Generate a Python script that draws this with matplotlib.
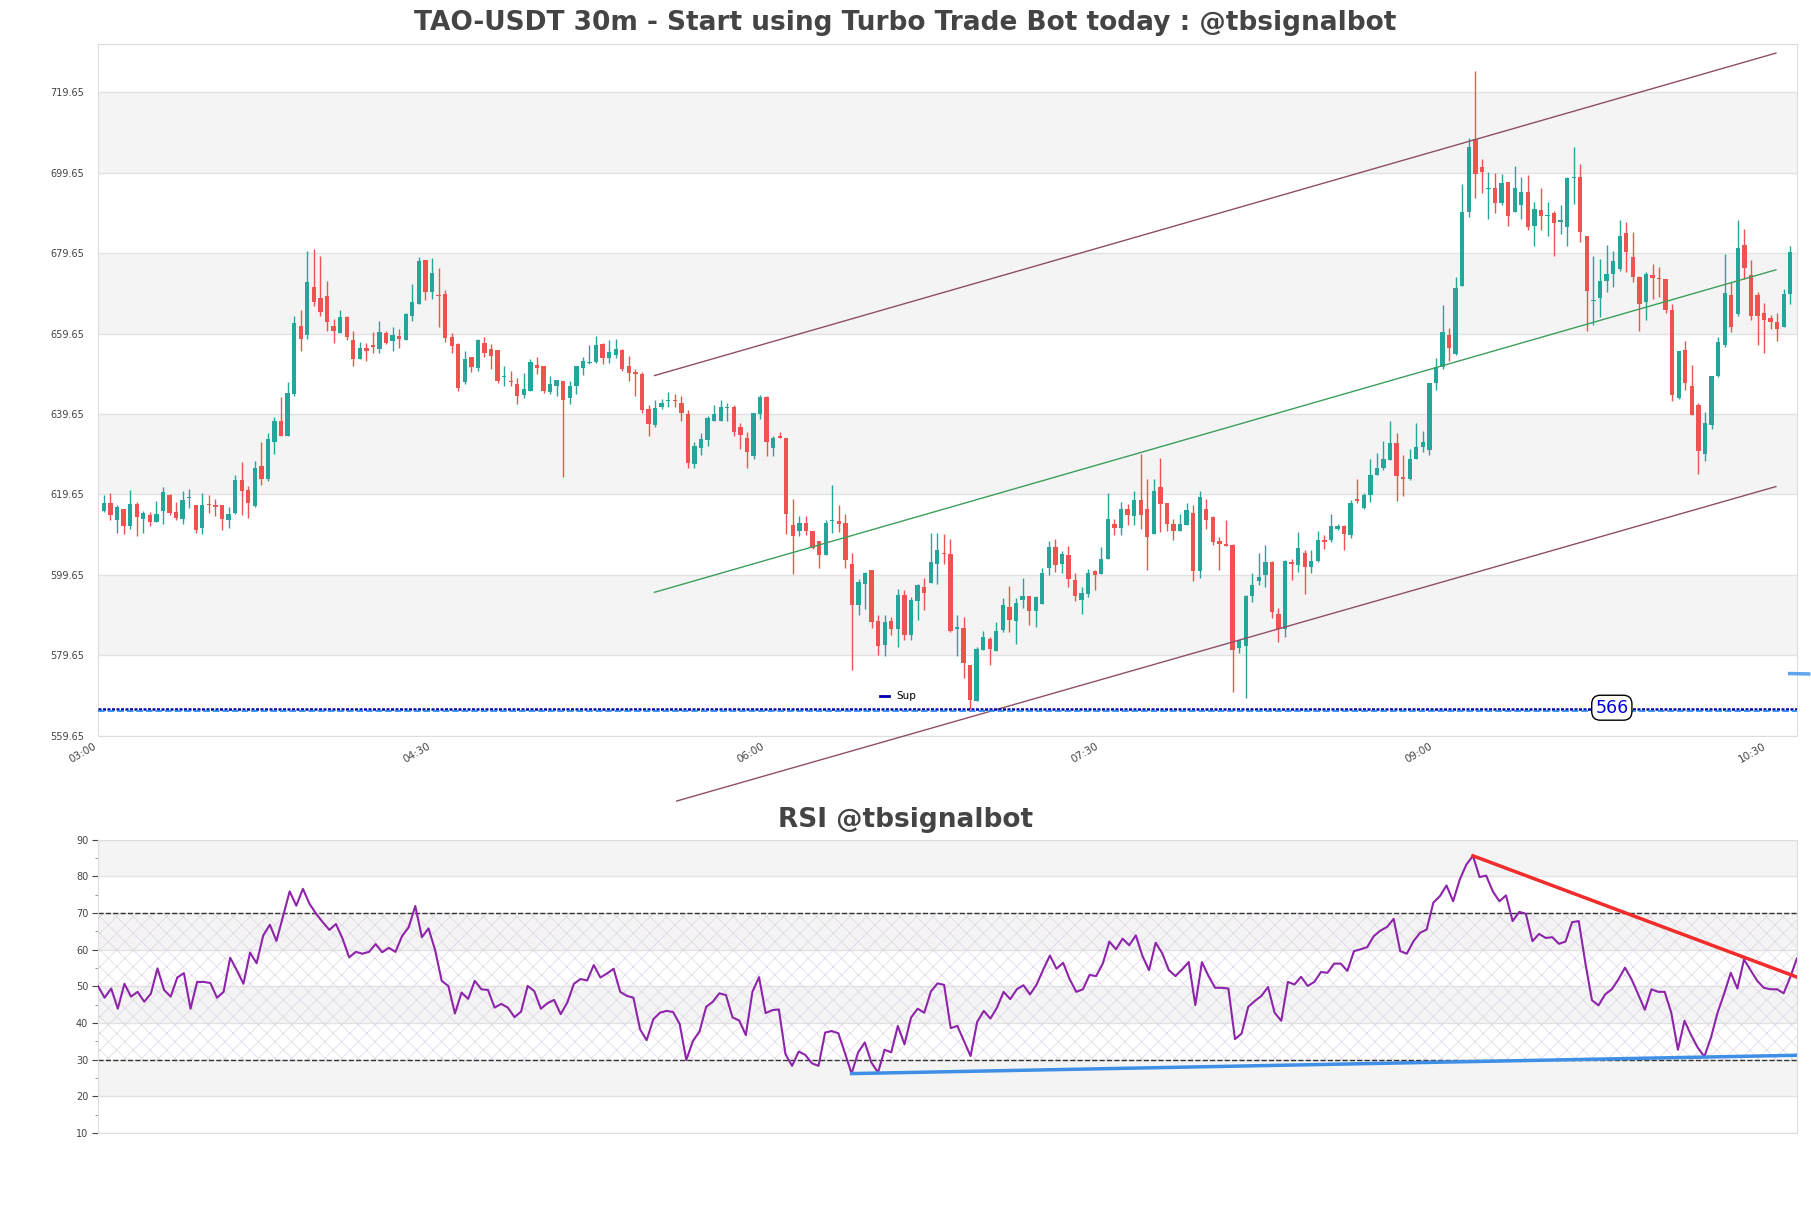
import numpy as np
import matplotlib
matplotlib.use('Agg')
import matplotlib.pyplot as plt
from matplotlib.lines import Line2D

# candle data (one row of ten per line)
opens = [615.6, 617.5, 613.4, 616.0, 611.7, 617.3, 613.6, 614.6, 612.9, 615.6,
         619.4, 615.2, 613.6, 618.7, 617.0, 611.2, 617.3, 617.0, 617.0, 613.4,
         615.0, 623.3, 620.8, 616.8, 626.7, 623.5, 632.6, 637.9, 634.3, 644.5,
         661.6, 659.4, 671.3, 668.5, 669.0, 661.6, 659.9, 663.8, 658.1, 653.4,
         656.1, 656.8, 655.7, 659.7, 657.8, 659.1, 658.1, 664.1, 667.1, 678.0,
         669.9, 669.1, 669.5, 658.7, 657.0, 647.6, 653.7, 651.0, 657.4, 655.8,
         655.5, 648.8, 647.7, 647.2, 644.3, 645.4, 651.8, 651.6, 645.1, 646.6,
         647.8, 643.7, 646.6, 651.1, 652.4, 652.6, 657.0, 653.6, 654.4, 655.5,
         651.5, 650.1, 649.5, 641.0, 636.9, 641.4, 642.9, 643.0, 642.3, 639.6,
         627.2, 631.1, 633.2, 637.9, 637.9, 641.1, 641.3, 636.5, 633.8, 629.2,
         639.6, 643.9, 631.3, 634.3, 633.7, 612.0, 610.6, 612.6, 610.5, 608.1,
         604.5, 613.1, 613.0, 612.6, 602.3, 592.1, 597.3, 600.9, 588.1, 582.1,
         588.2, 586.1, 594.7, 584.8, 593.1, 596.5, 597.5, 602.3, 605.1, 604.9,
         586.2, 586.4, 577.3, 568.2, 580.9, 583.8, 580.8, 586.0, 591.7, 588.1,
         593.3, 594.4, 590.6, 592.5, 601.3, 606.6, 602.3, 604.7, 598.4, 593.3,
         594.9, 600.6, 599.8, 603.7, 612.3, 611.3, 615.9, 614.3, 618.3, 616.1,
         609.7, 621.5, 617.6, 612.4, 610.5, 612.0, 615.1, 600.5, 616.1, 614.0,
         608.0, 607.4, 607.0, 581.4, 581.9, 594.5, 598.0, 599.5, 602.9, 590.0,
         586.3, 602.9, 602.0, 605.2, 601.6, 603.1, 608.4, 608.4, 611.1, 611.8,
         609.5, 618.4, 616.3, 619.6, 624.6, 626.1, 628.1, 632.4, 623.9, 623.6,
         628.5, 631.4, 630.6, 647.4, 651.3, 659.4, 654.5, 671.6, 690.0, 708.1,
         701.0, 695.5, 695.8, 692.0, 697.3, 690.0, 691.6, 694.8, 686.3, 690.4,
         688.9, 689.7, 687.5, 686.1, 698.4, 698.5, 684.0, 667.7, 668.4, 672.8,
         674.5, 675.7, 684.7, 678.6, 673.8, 667.5, 674.1, 673.4, 673.1, 665.4,
         643.6, 655.6, 646.7, 641.9, 629.8, 636.8, 649.0, 656.7, 669.3, 664.4,
         681.7, 674.2, 669.3, 664.8, 663.5, 662.6, 661.2, 669.5]
highs = [619.4, 619.9, 617.0, 616.0, 620.8, 617.7, 615.4, 615.2, 618.0, 621.5,
         619.7, 617.7, 620.4, 620.9, 617.0, 620.0, 619.4, 618.5, 617.0, 616.5,
         624.5, 627.7, 621.8, 628.0, 632.6, 635.0, 639.0, 643.8, 647.6, 664.0,
         665.6, 680.1, 680.7, 679.0, 672.7, 663.3, 665.6, 664.0, 660.3, 657.6,
         657.3, 660.0, 662.7, 660.2, 661.2, 660.8, 664.7, 671.9, 678.6, 678.0,
         678.4, 676.0, 670.5, 659.9, 657.4, 655.3, 653.8, 658.4, 658.7, 657.0,
         655.5, 651.6, 650.4, 648.7, 649.8, 653.3, 653.9, 651.6, 649.1, 648.1,
         647.8, 647.9, 651.5, 653.7, 656.7, 659.1, 657.2, 658.0, 658.4, 655.9,
         654.0, 650.8, 650.2, 642.0, 643.2, 643.5, 645.0, 644.5, 644.0, 640.6,
         632.6, 635.0, 639.2, 642.0, 643.2, 642.5, 641.8, 637.5, 635.2, 640.0,
         644.3, 644.2, 634.2, 635.1, 633.7, 618.6, 614.3, 614.3, 610.5, 608.1,
         613.4, 622.1, 617.1, 614.8, 605.1, 598.7, 600.4, 600.9, 589.6, 589.6,
         589.1, 596.2, 596.0, 594.1, 597.3, 598.9, 610.0, 610.0, 609.7, 608.6,
         589.6, 589.1, 577.3, 581.7, 585.8, 584.2, 587.8, 593.9, 596.8, 593.9,
         598.9, 594.5, 594.5, 601.3, 608.1, 608.6, 605.5, 606.8, 600.2, 596.6,
         601.0, 600.8, 606.6, 620.1, 613.6, 617.7, 617.3, 620.6, 629.6, 623.5,
         623.5, 628.7, 617.6, 613.6, 614.8, 617.6, 617.0, 620.4, 618.6, 614.4,
         609.1, 613.4, 607.2, 583.4, 594.6, 600.0, 605.0, 607.0, 603.0, 591.3,
         603.3, 603.7, 610.3, 605.8, 605.8, 610.6, 609.5, 614.9, 612.4, 612.0,
         618.2, 623.4, 620.1, 628.4, 630.0, 633.0, 637.8, 634.8, 629.5, 631.0,
         637.5, 635.4, 647.4, 653.5, 666.8, 661.1, 673.7, 696.9, 708.2, 725.0,
         703.1, 699.8, 699.6, 699.4, 697.3, 701.2, 698.7, 699.1, 692.3, 695.9,
         692.3, 690.2, 691.7, 698.5, 706.1, 701.8, 684.0, 678.9, 678.1, 681.7,
         680.3, 687.8, 687.3, 685.0, 673.9, 674.9, 677.0, 676.2, 673.1, 667.0,
         655.4, 657.9, 651.9, 642.5, 640.1, 649.0, 658.8, 679.5, 672.4, 687.9,
         685.7, 678.0, 669.9, 667.2, 664.3, 664.7, 670.8, 681.5]
lows = [615.2, 613.4, 610.1, 609.7, 611.1, 609.4, 610.0, 611.7, 612.9, 612.2,
        614.6, 613.4, 612.3, 616.2, 610.0, 609.7, 615.0, 614.2, 610.9, 611.2,
        614.8, 614.6, 613.9, 616.5, 622.1, 622.9, 629.8, 634.1, 634.1, 644.2,
        655.2, 658.4, 666.4, 663.9, 660.3, 657.4, 659.8, 658.1, 651.6, 653.4,
        652.9, 654.9, 654.9, 657.1, 655.2, 656.1, 658.0, 662.8, 667.1, 668.1,
        668.3, 661.4, 657.6, 654.7, 645.4, 647.1, 650.1, 650.4, 653.9, 650.9,
        647.3, 646.6, 646.6, 642.1, 643.7, 645.4, 649.5, 644.8, 644.6, 644.2,
        624.1, 642.2, 644.6, 649.3, 652.0, 652.4, 652.2, 652.4, 653.6, 650.4,
        647.9, 644.1, 640.0, 634.2, 636.5, 640.8, 641.5, 641.3, 637.9, 626.1,
        626.1, 629.5, 631.7, 637.9, 637.9, 637.9, 634.2, 630.9, 626.3, 628.4,
        638.5, 629.2, 629.1, 633.7, 609.9, 599.9, 609.2, 609.6, 606.0, 601.3,
        604.5, 610.1, 610.3, 601.3, 575.9, 589.6, 591.1, 586.4, 579.6, 579.4,
        584.6, 581.8, 583.4, 583.5, 588.3, 590.8, 597.5, 597.3, 602.3, 585.4,
        579.5, 574.0, 566.4, 568.2, 580.9, 577.2, 580.8, 585.4, 585.4, 582.5,
        591.4, 587.1, 586.6, 592.5, 599.5, 600.3, 600.1, 596.6, 593.1, 590.0,
        594.1, 595.8, 599.8, 603.5, 609.5, 609.5, 612.0, 612.0, 611.1, 600.8,
        609.7, 610.3, 610.5, 608.2, 610.5, 612.0, 598.1, 598.9, 611.1, 607.0,
        600.8, 606.8, 570.6, 580.1, 569.1, 592.8, 597.1, 596.7, 588.8, 583.0,
        584.2, 598.3, 600.4, 595.0, 600.0, 602.9, 606.0, 607.7, 610.7, 605.8,
        608.8, 617.6, 616.1, 617.8, 624.4, 625.6, 628.1, 617.9, 619.2, 623.2,
        628.5, 630.2, 629.4, 645.5, 650.9, 652.8, 654.2, 671.4, 688.6, 693.4,
        694.6, 688.2, 689.7, 691.5, 686.5, 690.0, 688.2, 685.3, 681.5, 685.5,
        683.9, 678.9, 684.3, 681.5, 691.9, 682.5, 660.4, 661.7, 663.7, 669.9,
        671.2, 675.3, 674.9, 672.4, 660.4, 662.9, 668.3, 668.7, 664.8, 643.0,
        643.3, 645.5, 639.3, 624.8, 627.9, 635.8, 648.8, 656.3, 660.0, 664.1,
        673.3, 662.9, 656.8, 654.9, 660.8, 657.9, 661.2, 667.0]
closes = [617.5, 614.6, 616.5, 611.9, 617.3, 614.1, 615.1, 612.9, 614.8, 620.2,
          615.1, 613.9, 618.3, 619.0, 610.7, 617.0, 616.9, 616.6, 613.6, 614.8,
          623.3, 620.4, 617.4, 626.2, 623.4, 633.5, 637.9, 634.3, 644.9, 662.2,
          658.4, 672.5, 667.6, 664.9, 662.6, 660.2, 663.7, 658.9, 653.4, 656.1,
          655.2, 656.2, 660.1, 657.4, 659.3, 658.4, 664.4, 667.5, 677.7, 669.9,
          674.8, 668.9, 658.6, 656.6, 646.2, 653.4, 651.4, 658.0, 654.7, 654.1,
          647.9, 648.9, 647.5, 644.0, 645.8, 652.7, 651.1, 645.4, 647.2, 648.0,
          643.2, 646.6, 651.5, 652.9, 652.6, 656.7, 653.6, 655.0, 655.9, 650.9,
          649.9, 649.5, 640.7, 637.2, 641.2, 642.5, 643.0, 642.9, 639.9, 627.4,
          631.6, 633.4, 638.7, 639.6, 641.5, 641.3, 635.2, 634.5, 630.3, 639.8,
          643.9, 632.7, 633.6, 633.7, 614.8, 609.2, 612.6, 610.5, 606.3, 604.7,
          612.6, 613.4, 612.2, 603.3, 592.1, 597.9, 600.2, 587.9, 581.9, 587.8,
          586.1, 594.7, 584.8, 593.5, 597.0, 595.1, 602.8, 605.9, 604.8, 585.6,
          586.7, 577.6, 568.5, 581.1, 584.2, 581.1, 585.8, 592.2, 588.3, 592.7,
          594.4, 590.6, 594.2, 600.1, 606.6, 602.0, 604.8, 598.5, 594.4, 595.2,
          600.2, 599.7, 603.5, 613.6, 611.3, 615.9, 614.6, 618.3, 614.6, 609.1,
          620.6, 617.3, 612.2, 610.6, 612.4, 615.7, 600.5, 619.0, 613.4, 607.8,
          607.2, 606.8, 580.9, 583.4, 594.4, 597.2, 599.0, 602.9, 590.4, 586.3,
          603.1, 602.3, 606.2, 601.6, 603.1, 608.4, 607.8, 611.8, 611.8, 609.7,
          617.6, 618.0, 619.6, 624.6, 626.2, 628.5, 632.4, 624.2, 623.6, 628.5,
          631.4, 632.7, 647.4, 651.3, 660.0, 656.1, 670.9, 689.8, 706.0, 699.4,
          699.9, 695.8, 692.0, 697.1, 689.0, 695.8, 694.8, 686.1, 690.7, 689.0,
          689.1, 687.1, 687.7, 698.4, 698.7, 685.0, 670.3, 668.0, 672.7, 674.5,
          677.8, 684.0, 679.9, 673.8, 666.9, 674.5, 673.4, 673.1, 665.4, 644.4,
          655.4, 647.3, 639.4, 630.4, 637.5, 649.0, 657.5, 669.8, 661.2, 681.0,
          675.9, 664.1, 664.1, 662.9, 662.6, 660.7, 669.5, 680.0]

rsi = [50.1, 46.9, 49.4, 43.9, 50.7, 47.2, 48.5, 45.8, 48.0, 54.9,
       49.0, 47.2, 52.4, 53.6, 43.9, 51.2, 51.2, 50.9, 46.9, 48.5,
       57.8, 54.4, 50.7, 59.2, 56.3, 63.9, 66.8, 62.4, 69.1, 75.9,
       72.0, 76.6, 72.5, 69.8, 67.5, 65.4, 67.0, 63.0, 57.9, 59.4,
       58.9, 59.4, 61.5, 59.3, 60.5, 59.4, 63.7, 66.1, 71.9, 63.4,
       65.8, 59.9, 51.5, 50.1, 42.6, 48.3, 46.6, 51.5, 49.2, 49.0,
       44.2, 45.2, 44.2, 41.6, 43.1, 50.1, 48.7, 43.9, 45.4, 46.3,
       42.4, 45.6, 50.7, 52.0, 51.6, 55.8, 52.4, 53.5, 54.8, 48.5,
       47.4, 46.9, 38.3, 35.3, 41.0, 42.8, 43.3, 43.0, 39.7, 29.9,
       35.1, 37.7, 44.4, 45.8, 48.1, 47.6, 41.5, 40.7, 36.7, 48.5,
       52.5, 42.7, 43.5, 43.7, 31.5, 28.3, 32.2, 31.3, 29.0, 28.3,
       37.4, 37.8, 37.2, 31.8, 26.2, 32.0, 34.7, 29.2, 26.5, 32.7,
       32.0, 39.2, 34.2, 41.5, 43.9, 42.8, 48.6, 50.8, 50.4, 38.6,
       39.2, 35.1, 31.0, 40.3, 43.3, 41.2, 44.2, 48.5, 46.5, 49.2,
       50.3, 47.8, 50.5, 54.6, 58.4, 54.8, 56.4, 51.9, 48.5, 49.2,
       53.1, 52.8, 56.2, 62.2, 60.1, 63.0, 61.2, 63.9, 58.3, 54.4,
       61.9, 59.0, 54.4, 52.8, 54.6, 56.6, 44.9, 56.6, 52.8, 49.6,
       49.6, 49.4, 35.6, 37.1, 44.4, 46.0, 47.4, 49.8, 42.8, 40.6,
       51.2, 50.5, 52.6, 50.1, 51.2, 53.9, 53.7, 56.2, 56.2, 54.2,
       59.6, 60.1, 60.7, 63.7, 65.2, 66.2, 68.4, 59.6, 58.9, 62.3,
       64.6, 65.5, 72.8, 74.6, 77.5, 73.2, 79.1, 83.2, 85.6, 79.8,
       80.2, 75.9, 73.2, 74.8, 67.8, 70.3, 69.8, 62.3, 64.3, 63.2,
       63.4, 61.6, 62.2, 67.5, 67.8, 56.4, 46.2, 44.8, 47.8, 49.2,
       51.9, 55.1, 51.9, 47.8, 43.6, 49.2, 48.5, 48.5, 42.8, 32.7,
       40.6, 36.7, 33.3, 30.8, 36.0, 42.8, 48.0, 53.7, 49.4, 57.3,
       54.4, 51.5, 49.6, 49.2, 49.2, 48.1, 52.5, 57.6]

tick_pos = [-0.9, 50.0, 100.9, 151.8, 202.7, 253.6]
tick_labels = ['03:00', '04:30', '06:00', '07:30', '09:00', '10:30']

# channel lines (start/end index, price)
upper_x, upper_y = [83.9, 254.8], [649.2, 729.4]
mid_x, mid_y = [83.9, 254.8], [595.3, 675.5]
lower_x, lower_y = [87.3, 254.8], [543.4, 621.6]
support = 566.3
support_label = '566'
marker_x, marker_y = [256.9, 259.8], [575.1, 575.0]

# rsi trend lines
rsi_down_x, rsi_down_y = [208, 257.2], [85.6, 52.4]
rsi_up_x, rsi_up_y = [114, 257.2], [26.2, 31.2]

GREEN = '#26a69a'
RED = '#ef5350'
TXT = '#444444'

plt.rcParams['hatch.linewidth'] = 0.45

fig = plt.figure(figsize=(18.11, 12.08), dpi=100)
ax = fig.add_axes([0.0541, 0.391, 0.9381, 0.5727])
ax2 = fig.add_axes([0.0541, 0.0621, 0.9381, 0.2428])

o = np.array(opens)
h = np.array(highs)
l = np.array(lows)
c = np.array(closes)
x = np.arange(len(o))
up = c >= o
cols = np.where(up, GREEN, RED)

# background bands
ylo, yhi = 559.65, 731.7
levels = [559.65 + 20 * k for k in range(9)]
for k in range(len(levels) - 1):
    if k % 2 == 1:
        ax.axhspan(levels[k], levels[k + 1], color='#f4f4f4', zorder=0, lw=0)
for lv in levels:
    ax.axhline(lv, color='#e2e2e2', lw=1, zorder=0.5)

ax.vlines(x, l, h, colors=cols, lw=1, zorder=2)
body = np.maximum(np.abs(c - o), 0.3)
ax.bar(x, body, bottom=np.minimum(o, c), width=0.66, color=cols, zorder=3, lw=0)

ax.plot(upper_x, upper_y, color='#8d4f63', lw=1, zorder=4)
ax.plot(mid_x, mid_y, color='#3c9e5a', lw=1, zorder=4)
ax.plot(lower_x, lower_y, color='#8d4f63', lw=1, zorder=4, clip_on=False)

ax.axhline(support, color='#0000aa', ls=(0, (1.2, 0.6)), lw=1.8, zorder=4)
ax.axhline(support - 0.6, color='#2a8cf0', ls='--', lw=1.3, zorder=4)
ax.text(229.8, support + 0.3, support_label, color='#0000dd', fontsize=12.5,
        ha='center', va='center', zorder=6,
        bbox=dict(boxstyle='round,pad=0.2,rounding_size=0.5', fc='white', ec='black', lw=1))
ax.plot(marker_x, marker_y, color='#5fa4ee', lw=2.5, clip_on=False, zorder=5)

sup_handle = Line2D([], [], color='#0000aa', lw=2)
ax.legend([sup_handle], ['Sup'], loc='center left', bbox_to_anchor=(0.455, 0.057),
          frameon=False, fontsize=7.5, handlelength=0.8, handletextpad=0.7)

ax.set_xlim(-0.9, 258.0)
ax.set_ylim(ylo, yhi)
ax.set_yticks(levels)
ax.set_yticklabels([f'{v:.2f}' for v in levels])
ax.set_xticks(tick_pos)
ax.set_xticklabels(tick_labels, rotation=30, ha='right')
ax.tick_params(axis='both', length=0, labelsize=7, colors=TXT, pad=10)
ax.tick_params(axis='x', pad=4, labelsize=7.5)
for s in ax.spines.values():
    s.set_color('#dddddd')

fig.text(0.5, 0.981, 'TAO-USDT 30m - Start using Turbo Trade Bot today : @tbsignalbot',
         ha='center', va='center', fontsize=19, fontweight='bold', color=TXT)

# RSI panel
r = np.array(rsi)
xr = np.arange(len(r))
for lo in (20, 40, 60, 80):
    ax2.axhspan(lo, lo + 10, color='#f4f4f4', zorder=0, lw=0)
for lv in range(10, 100, 10):
    ax2.axhline(lv, color='#e2e2e2', lw=1, zorder=0.5)
ax2.fill_between([-5, len(r) + 5], 30, 70, facecolor='none', hatch='xx',
                 edgecolor='#ddd0e4', linewidth=0, zorder=1)
ax2.axhline(70, color='#333333', ls='--', lw=1, zorder=2)
ax2.axhline(30, color='#333333', ls='--', lw=1, zorder=2)
ax2.plot(xr, r, color='#8e24aa', lw=1.5, zorder=3)
ax2.plot(rsi_down_x, rsi_down_y, color='#f22b2b', lw=2.5, zorder=4)
ax2.plot(rsi_up_x, rsi_up_y, color='#3f8fe6', lw=2.5, zorder=4)

ax2.set_xlim(0, len(r) - 1)
ax2.set_ylim(10, 90)
ax2.set_yticks(range(10, 100, 10))
ax2.set_yticks(range(15, 90, 10), minor=True)
ax2.set_xticks([])
ax2.tick_params(axis='y', which='major', length=4, labelsize=7, colors=TXT, pad=3)
ax2.tick_params(axis='y', which='minor', length=2.5, colors='#888888')
for s in ax2.spines.values():
    s.set_color('#dddddd')

fig.text(0.5, 0.321, 'RSI @tbsignalbot', ha='center', va='center',
         fontsize=19, fontweight='bold', color=TXT)

fig.savefig('out.png', dpi=100)
